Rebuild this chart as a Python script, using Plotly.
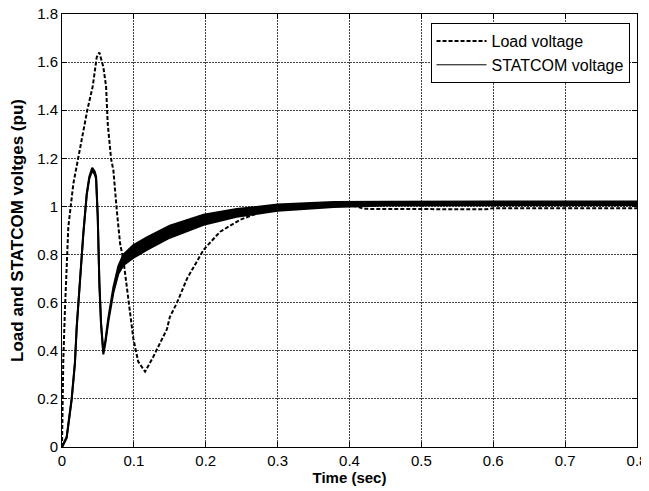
import plotly.graph_objects as go

# ---------------- data ----------------
time_load = [0, 0.0008, 0.0018, 0.0042, 0.0088, 0.0158, 0.0227, 0.0297, 0.0352, 0.0428, 0.0483,
             0.052, 0.0575, 0.0613, 0.0636, 0.0682, 0.0715, 0.0762, 0.0808, 0.0854, 0.090, 0.0947,
             0.0993, 0.106, 0.1156, 0.127, 0.1365, 0.146, 0.15, 0.16, 0.174, 0.197, 0.22, 0.248,
             0.275, 0.30, 0.35, 0.40, 0.41, 0.42, 0.59, 0.60, 0.70, 0.80]
load_voltage = [0, 0.2, 0.36, 0.58, 0.915, 1.095, 1.205, 1.30, 1.40, 1.50, 1.62,
                1.64, 1.58, 1.50, 1.345, 1.20, 1.15, 0.985, 0.846, 0.778, 0.667, 0.54,
                0.45, 0.355, 0.313, 0.375, 0.43, 0.49, 0.54, 0.60, 0.70, 0.82, 0.895, 0.945,
                0.975, 0.993, 1.0, 1.003, 1.0, 0.99, 0.988, 0.993, 0.993, 0.993]

time_statcom = [0, 0.0065, 0.0135, 0.018, 0.0205, 0.025, 0.0297, 0.0344, 0.038, 0.042, 0.0455,
                0.0474, 0.0497, 0.052, 0.0543, 0.0575, 0.0605, 0.0645, 0.0715, 0.0784, 0.0854,
                0.099, 0.118, 0.15, 0.197, 0.243, 0.30, 0.378, 0.45, 0.60, 0.80]
statcom_voltage = [0, 0.04, 0.2, 0.35, 0.5, 0.708, 0.888, 1.05, 1.12, 1.155, 1.14,
                   1.12, 0.96, 0.68, 0.514, 0.39, 0.44, 0.53, 0.653, 0.736, 0.778,
                   0.812, 0.845, 0.895, 0.945, 0.973, 0.995, 1.008, 1.012, 1.013, 1.013]
# half-amplitude of the switching ripple (pu)
statcom_ripple = [0.002, 0.002, 0.002, 0.002, 0.002, 0.002, 0.002, 0.002, 0.004, 0.006, 0.006,
                  0.005, 0.003, 0.003, 0.003, 0.005, 0.005, 0.008, 0.011, 0.016, 0.022,
                  0.026, 0.026, 0.025, 0.021, 0.016, 0.013, 0.010, 0.008, 0.008, 0.008]

x_ticks = [0, 0.1, 0.2, 0.3, 0.4, 0.5, 0.6, 0.7, 0.8]
x_labels = ["0", "0.1", "0.2", "0.3", "0.4", "0.5", "0.6", "0.7", "0.8"]
y_ticks = [0, 0.2, 0.4, 0.6, 0.8, 1.0, 1.2, 1.4, 1.6, 1.8]
y_labels = ["0", "0.2", "0.4", "0.6", "0.8", "1", "1.2", "1.4", "1.6", "1.8"]

# ---------------- figure ----------------
upper = [v + r for v, r in zip(statcom_voltage, statcom_ripple)]
lower = [v - r for v, r in zip(statcom_voltage, statcom_ripple)]

FONT = "Arial, Liberation Sans, sans-serif"

fig = go.Figure()
fig.add_trace(go.Scatter(x=time_statcom, y=upper, mode="lines",
                         line=dict(color="black", width=2), showlegend=False, hoverinfo="skip"))
fig.add_trace(go.Scatter(x=time_statcom, y=lower, mode="lines", fill="tonexty",
                         fillcolor="black", line=dict(color="black", width=2),
                         showlegend=False, hoverinfo="skip"))
fig.add_trace(go.Scatter(x=time_load, y=load_voltage, mode="lines", name="Load voltage",
                         line=dict(color="black", width=2, dash="4px,2px")))
fig.add_trace(go.Scatter(x=[None], y=[None], mode="lines", name="STATCOM voltage",
                         line=dict(color="black", width=1)))

axis_common = dict(
    showline=True, linecolor="black", linewidth=1, mirror="ticks",
    ticks="inside", ticklen=5, tickcolor="black", tickwidth=1,
    showgrid=True, gridcolor="#444444", gridwidth=1, griddash="2px,1px",
    zeroline=False, automargin=False, ticklabeloverflow="allow",
    tickfont=dict(family=FONT, size=15, color="black"),
)

fig.update_xaxes(range=[0, 0.8], tickvals=x_ticks, ticktext=x_labels,
                 title=dict(text="<b>Time (sec)</b>", font=dict(family=FONT, size=15, color="black"),
                            standoff=4),
                 **axis_common)
fig.update_yaxes(range=[0, 1.8], tickvals=y_ticks, ticktext=y_labels,
                 title=dict(text="<b>Load and STATCOM voltges (pu)</b>",
                            font=dict(family=FONT, size=17, color="black"), standoff=10),
                 **axis_common)

# the page body has an 8px margin, so the figure is offset by (8, 8)
fig.update_layout(
    width=641, height=483,
    margin=dict(l=54, r=12, t=6, b=44),
    paper_bgcolor="white", plot_bgcolor="white",
    font=dict(family=FONT, color="black"),
    legend=dict(x=0.987, y=0.979, xanchor="right", yanchor="top", traceorder="normal",
                bgcolor="white", bordercolor="black", borderwidth=1,
                font=dict(family=FONT, size=16, color="black"),
                itemwidth=50, tracegroupgap=0),
    showlegend=True,
)

fig.write_html("out.html")
